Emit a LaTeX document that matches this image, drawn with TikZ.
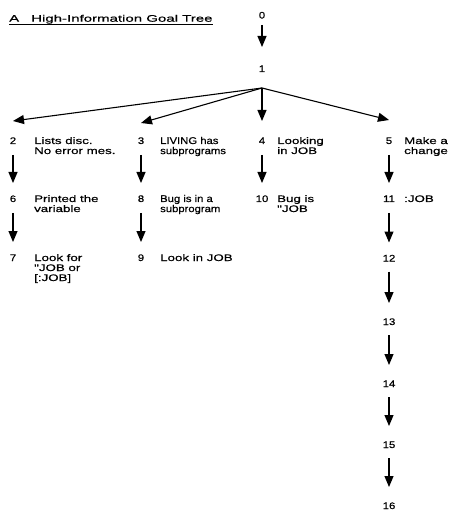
\documentclass[tikz,border=0pt]{standalone}
\usepackage{fontspec}
\setmainfont{Liberation Sans}
\newfontfamily\lblfam[FakeStretch=1.4,FakeBold=0.6]{Liberation Sans}
\newfontfamily\narfam[FakeStretch=1.15,FakeBold=0.6]{Liberation Sans}
\newfontfamily\numfam[FakeStretch=1.2,FakeBold=0.6]{Liberation Sans}
\newfontfamily\ttlfam[FakeStretch=1.58,FakeBold=0.6]{Liberation Sans}
\usetikzlibrary{arrows.meta}
\newcommand\lblfont{\lblfam\fontsize{9.5pt}{10pt}\selectfont}
\newcommand\narfont{\narfam\fontsize{9.8pt}{10pt}\selectfont}
\newcommand\numfont{\numfam\fontsize{9.5pt}{10pt}\selectfont}
\newcommand\ttlfont{\ttlfam\fontsize{9.5pt}{10pt}\selectfont}
\newcommand\firstbase[1]{\begin{tabular}[t]{@{}l@{}}#1\end{tabular}}
\tikzset{
  num/.style={font=\numfont, inner sep=0pt, anchor=base},
  lab/.style={font=\lblfont, inner sep=0pt, anchor=base west},
  narlab/.style={font=\narfont, inner sep=0pt, anchor=base west},
  arr/.style={line width=1.1pt, -{Triangle[length=11pt,width=9pt]}},
}
\begin{document}
\begin{tikzpicture}[x=1pt,y=-1pt]
\useasboundingbox (0,0) rectangle (450,510);
% title
\node[font=\ttlfont, inner sep=0pt, anchor=base west] (title) at (9,21.7) {A\hspace{12pt}High-Information Goal Tree};
\draw[line width=0.8pt] ([yshift=-2.3pt]title.base west) -- ([yshift=-2.3pt]title.base east);
% top
\node[num] (n0) at (262,18.5) {0};
\node[num] (n1) at (262,72) {1};
\coordinate (hub) at (262,88);
% row 1
\node[num] (n2) at (13,144) {2};
\node[lab] (t2) at (34,144) {\firstbase{Lists disc.\\No error mes.}};
\node[num] (n3) at (141,144) {3};
\node[narlab] (t3) at (160,144) {\firstbase{LIVING has\\subprograms}};
\node[num] (n4) at (262,144) {4};
\node[lab] (t4) at (277,144) {\firstbase{Looking\\in JOB}};
\node[num] (n5) at (389,144) {5};
\node[lab] (t5) at (404,144) {\firstbase{Make a\\change}};
% row 2
\node[num] (n6) at (13,202) {6};
\node[lab] (t6) at (34,202) {\firstbase{Printed the\\variable}};
\node[num] (n8) at (141,202) {8};
\node[narlab] (t8) at (160,202) {\firstbase{Bug is in a\\subprogram}};
\node[num] (n10) at (262,202) {10};
\node[lab] (t10) at (277,202) {\firstbase{Bug is\\"JOB}};
\node[num] (n11) at (389,202) {11};
\node[lab] (t11) at (404,202) {:JOB};
% row 3
\node[num] (n7) at (13,261) {7};
\node[lab] (t7) at (34,261) {\firstbase{Look for\\"JOB or\\\relax[:JOB]}};
\node[num] (n9) at (141,261) {9};
\node[lab] (t9) at (160,261) {Look in JOB};
\node[num] (n12) at (389,261.5) {12};
% column D
\node[num] (n13) at (389,325) {13};
\node[num] (n14) at (389,387) {14};
\node[num] (n15) at (389,448) {15};
\node[num] (n16) at (389,509) {16};
% arrows
\draw[arr] ([yshift=-6.5pt]n0.base) -- ([yshift=25pt]n1.base);
\draw[arr] (hub) -- ([yshift=23pt]n2.base);
\draw[arr] (hub) -- ([yshift=21pt]n3.base);
\draw[arr] (hub) -- ([yshift=23pt]n4.base);
\draw[arr] (hub) -- ([yshift=24pt]n5.base);
\foreach \a/\b in {n2/n6, n6/n7, n3/n8, n8/n9, n4/n10, n5/n11, n11/n12}
  \draw[arr] ([yshift=-11pt]\a.base) -- ([yshift=19pt]\b.base);
\foreach \a/\b in {n12/n13, n13/n14, n14/n15, n15/n16}
  \draw[arr] ([yshift=-10pt]\a.base) -- ([yshift=22pt]\b.base);
\end{tikzpicture}
\end{document}
